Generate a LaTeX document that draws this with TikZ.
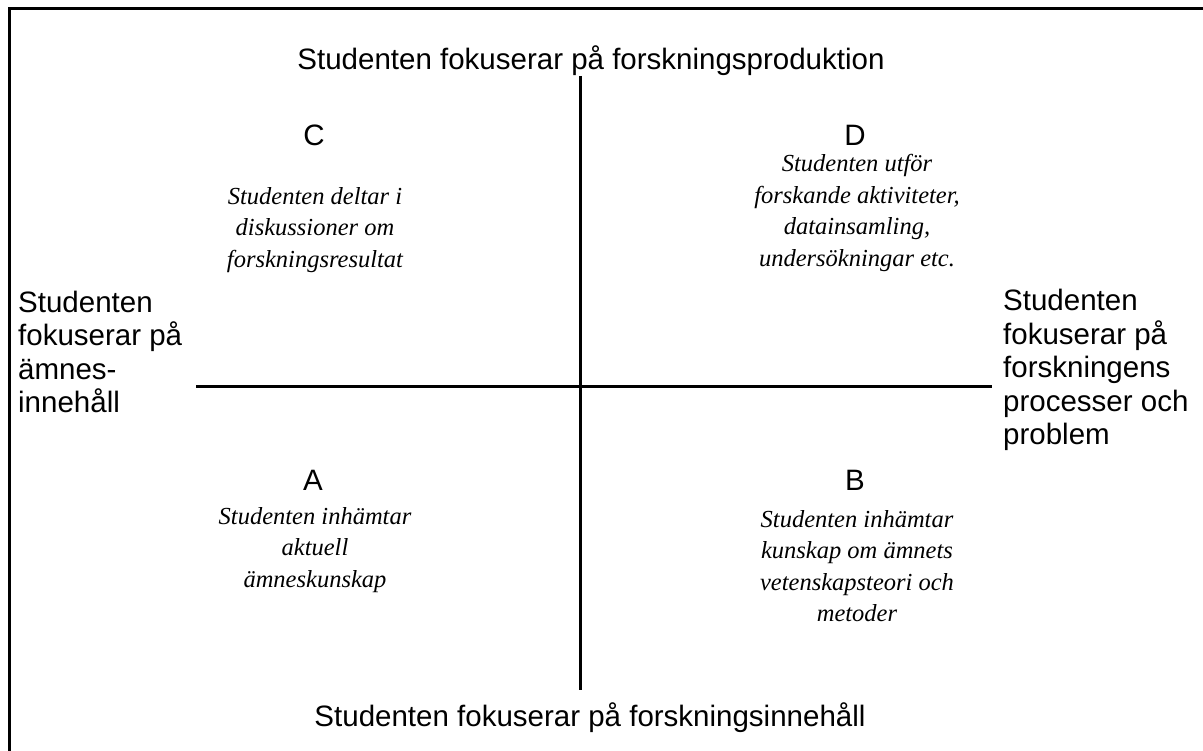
\documentclass[tikz,border=0pt]{standalone}
\usepackage{fontspec}
\setmainfont{Liberation Sans}
\newfontfamily\quadfont{Liberation Serif}
\begin{document}
\begin{tikzpicture}[x=1pt,y=-1pt,
  lab/.style={inner sep=0pt,font=\fontsize{29.5}{33.5}\selectfont},
  letter/.style={inner sep=0pt,font=\fontsize{29.5}{33.5}\selectfont},
  quad/.style={inner sep=0pt,align=center,font=\quadfont\itshape\fontsize{24.5}{31.5}\selectfont},
  axis/.style={line width=3pt},
  frame/.style={line width=3pt}]
\useasboundingbox (0,0) rectangle (1203,751);
\coordinate (fa) at (9.5,751);
\coordinate (fb) at (9.5,8.5);
\coordinate (fc) at (1203,8.5);
\draw[frame] (fa) -- (fb) -- (fc);
\coordinate (vt) at (580.5,76);
\coordinate (vb) at (580.5,690);
\coordinate (hl) at (196,386.5);
\coordinate (hr) at (992,386.5);
\draw[axis] (vt) -- (vb);
\draw[axis] (hl) -- (hr);
\node[lab] (top) at (591,61) {Studenten fokuserar på forskningsproduktion};
\node[lab] (bot) at (590,718) {Studenten fokuserar på forskningsinnehåll};
\node[lab,align=left,anchor=west] (left) at (18,352) {Studenten\\fokuserar på\\ämnes-\\innehåll};
\node[lab,align=left,anchor=west] (right) at (1003,370) {Studenten\\fokuserar på\\forskningens\\processer och\\problem};
\node[letter] (C) at (314,135) {C};
\node[letter] (D) at (855,135) {D};
\node[letter] (A) at (313,480) {A};
\node[letter] (B) at (855,480) {B};
\node[quad] (ct) at (315,230) {Studenten deltar i\\diskussioner om\\forskningsresultat};
\node[quad] (dt) at (857,213) {Studenten utför\\forskande aktiviteter,\\datainsamling,\\undersökningar etc.};
\node[quad] (at) at (315,550) {Studenten inhämtar\\aktuell\\ämneskunskap};
\node[quad] (bt) at (857,566) {Studenten inhämtar\\kunskap om ämnets\\vetenskapsteori och\\metoder};
\end{tikzpicture}
\end{document}
